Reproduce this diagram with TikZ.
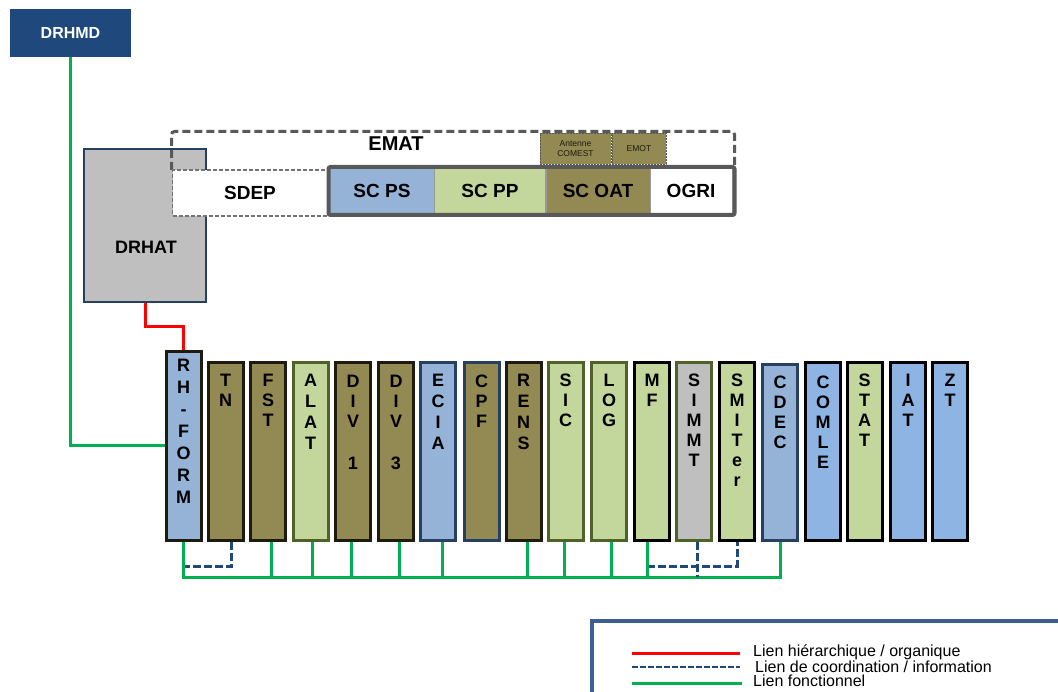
\documentclass[tikz,border=0pt]{standalone}
\usepackage{fontspec}
\setmainfont{Liberation Sans}
\usetikzlibrary{calc}
\definecolor{cOlive}{RGB}{147,137,83}
\definecolor{cLGreen}{RGB}{195,214,155}
\definecolor{cBlueA}{RGB}{149,179,215}
\definecolor{cBlueB}{RGB}{141,180,226}
\definecolor{cGray}{RGB}{191,191,191}
\definecolor{cBrown}{RGB}{29,27,16}
\definecolor{cDGreen}{RGB}{79,98,40}
\definecolor{cDBlue}{RGB}{37,64,97}
\definecolor{cNavy}{RGB}{31,73,125}
\definecolor{cFrame}{RGB}{89,89,89}
\definecolor{cGreenL}{RGB}{0,176,80}
\definecolor{cBlueL}{RGB}{31,73,125}
\definecolor{cLegend}{RGB}{60,95,143}
\newcommand\mycol[7]{%
  \node[colbox, fill=#5, draw=#6, minimum height=#4, anchor=south] (#1) at (#2,541.5) {};
  \node[coltext, anchor=north] (#1t) at (#2,#3) {#7};
}
\begin{document}
\begin{tikzpicture}[x=1pt,y=-1pt,
  colbox/.style={rectangle, line width=3pt, minimum width=35pt, inner sep=0pt},
  coltext/.style={align=center, inner sep=0pt, font=\fontsize{18}{20}\selectfont\bfseries},
  cell/.style={rectangle, inner sep=0pt, draw=gray!80, line width=0.6pt, font=\fontsize{19}{22}\selectfont\bfseries},
  gline/.style={draw=cGreenL, line width=3pt},
  rline/.style={draw=red, line width=3pt},
  bline/.style={draw=cBlueL, line width=3pt, dash pattern=on 8pt off 3pt},
  legtext/.style={anchor=west, inner sep=0pt, font=\fontsize{16}{16}\selectfont}
]
\useasboundingbox (0,0) rectangle (1058,692);

% top boxes
\node[rectangle, fill=cNavy, minimum width=121pt, minimum height=48pt, inner sep=0pt,
      text=white, font=\fontsize{16}{18}\selectfont\bfseries] (drhmd) at (70.5,33) {DRHMD};
\node[rectangle, fill=cGray, draw=cDBlue, line width=2pt, minimum width=122pt, minimum height=153pt, inner sep=0pt] (drhat) at (145,225.5) {};
\node[font=\fontsize{18}{20}\selectfont\bfseries, inner sep=0pt] (drhatt) at (146,247) {DRHAT};

% EMAT frame
\draw[cFrame, line width=3pt, dash pattern=on 8pt off 4pt, rounded corners=3pt]
  (171.5,170) -- (171.5,131.5) -- (734.5,131.5) -- (734.5,166);
\node[font=\fontsize{20}{22}\selectfont\bfseries, inner sep=0pt] (emat) at (396,144) {EMAT};
\node[rectangle, fill=cOlive, draw=cFrame, line width=0.8pt, dash pattern=on 2pt off 1pt,
      minimum width=71pt, minimum height=31pt, inner sep=0pt, align=center,
      font=\fontsize{8.5}{10}\selectfont, text=cBrown] (antenne) at (575.5,149) {Antenne\\COMEST};
\node[rectangle, fill=cOlive, draw=cFrame, line width=0.8pt, dash pattern=on 2pt off 1pt,
      minimum width=54pt, minimum height=31pt, inner sep=0pt,
      font=\fontsize{8.5}{10}\selectfont, text=cBrown] (emot) at (639,149) {EMOT};

\node[rectangle, fill=white, draw=gray!90!black, line width=1.2pt, dash pattern=on 4pt off 2pt,
      minimum width=155pt, minimum height=46pt, inner sep=0pt, font=\fontsize{19}{22}\selectfont\bfseries] (sdep) at (250,193) {SDEP};
\node[cell, fill=cBlueA, minimum width=105pt, minimum height=46pt] (scps) at (382,191) {SC PS};
\node[cell, fill=cLGreen, minimum width=111pt, minimum height=46pt] (scpp) at (490,191) {SC PP};
\node[cell, fill=cOlive, minimum width=104pt, minimum height=46pt] (scoat) at (598,191) {SC OAT};
\node[cell, fill=white, minimum width=82pt, minimum height=46pt] (ogri) at (691,191) {OGRI};
\draw[cFrame, line width=4pt, rounded corners=2pt] (328.5,167) rectangle (734.5,215);

% columns
\mycol{rh}{183.5}{358.5}{188pt}{cBlueA}{cBrown}{R\\[2pt]H\\[2pt]-\\[2pt]F\\[2pt]O\\[2pt]R\\[2pt]M}
\mycol{tn}{225.5}{373.5}{177pt}{cOlive}{cBrown}{T\\N}
\mycol{fst}{268}{373.5}{177pt}{cOlive}{cBrown}{F\\S\\T}
\mycol{alat}{310.5}{373.5}{177pt}{cLGreen}{cDGreen}{A\\[1pt]L\\[1pt]A\\[1pt]T}
\mycol{div1}{353}{375}{177pt}{cOlive}{cBrown}{D\\I\\V\\[22pt]1}
\mycol{div3}{396}{375}{177pt}{cOlive}{cBrown}{D\\I\\V\\[22pt]3}
\mycol{ecia}{438}{373.5}{177pt}{cBlueA}{cDBlue}{E\\[1pt]C\\[1pt]I\\[1pt]A}
\mycol{cpf}{481.5}{375}{177pt}{cOlive}{cDBlue}{C\\P\\F}
\mycol{rens}{523.5}{373.5}{177pt}{cOlive}{cBrown}{R\\[1pt]E\\[1pt]N\\[1pt]S}
\mycol{sic}{565.5}{373.5}{177pt}{cLGreen}{cDGreen}{S\\I\\C}
\mycol{log}{609}{373.5}{177pt}{cLGreen}{cDGreen}{L\\O\\G}
\mycol{mf}{652}{373.5}{177pt}{cLGreen}{black}{M\\F}
\mycol{simmt}{694}{373.5}{177pt}{cGray}{cDGreen}{S\\I\\M\\M\\T}
\mycol{smiter}{737}{373.5}{177pt}{cLGreen}{black}{S\\M\\I\\T\\e\\r}
\mycol{cdec}{780}{375.5}{175pt}{cBlueA}{cDBlue}{C\\D\\E\\C}
\mycol{comle}{823}{375.5}{177pt}{cBlueB}{black}{C\\O\\M\\L\\E}
\mycol{stat}{864.5}{373.5}{177pt}{cLGreen}{black}{S\\T\\A\\T}
\mycol{iat}{908}{373.5}{177pt}{cBlueB}{black}{I\\A\\T}
\mycol{zt}{950}{373.5}{177pt}{cBlueB}{black}{Z\\T}

% connectors
\coordinate (bus) at (0,577);
\coordinate (dbus) at (0,566);
\coordinate (redmid) at (0,327);
\draw[gline] (drhmd.south) |- (rh.west);
\draw[rline] (drhat.south) |- (rh.north |- redmid) -- (rh.north);
\draw[bline] ([xshift=6pt]tn.south) |- (rh.south |- dbus);
\draw[bline] ([xshift=-5pt]mf.south |- dbus) -- (smiter.south |- dbus) -- (smiter.south);
\draw[gline] (rh.south) |- (cdec.south |- bus) -- (cdec.south);
\foreach \n/\s in {fst/3,alat/1.5,div1/-2,div3/3,ecia/4,rens/3.5,sic/-1.5,log/2,mf/-5}
  \draw[gline] ([xshift=\s pt]\n.south) -- ([xshift=\s pt]\n.south |- bus);
\draw[bline] ([xshift=3pt]simmt.south) -- ([xshift=3pt]simmt.south |- bus);

% legend
\draw[cLegend, line width=4pt] (592,700) -- (592,621) -- (1070,621);
\coordinate (l1a) at (632,653); \coordinate (l1b) at (740,653);
\coordinate (l2a) at (632,667); \coordinate (l2b) at (740,667);
\coordinate (l3a) at (632,683); \coordinate (l3b) at (742,683);
\draw[rline] (l1a) -- (l1b);
\draw[bline, line width=2.5pt, dash pattern=on 6pt off 2pt] (l2a) -- (l2b);
\draw[gline] (l3a) -- (l3b);
\node[legtext] (lt1) at (753,652) {Lien hiérarchique / organique};
\node[legtext] (lt2) at (755,667) {Lien de coordination / information};
\node[legtext] (lt3) at (753,681) {Lien fonctionnel};
\end{tikzpicture}
\end{document}
